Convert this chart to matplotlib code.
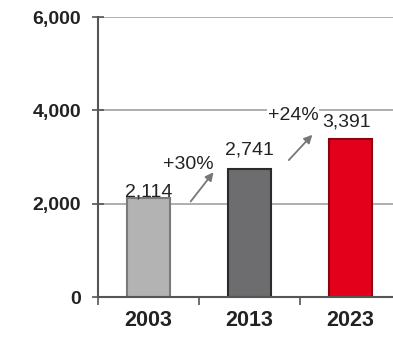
import matplotlib.pyplot as plt
from matplotlib.ticker import FuncFormatter

plt.rcParams['font.family'] = ['Liberation Sans', 'DejaVu Sans']

# data
years = ['2003', '2013', '2023']
values = [2114, 2741, 3391]
value_labels = ['2,114', '2,741', '3,391']
growth_labels = ['+30%', '+24%']
bar_colors = ['#b3b3b3', '#6d6d6f', '#e3001b']
edge_colors = ['#7a7a7a', '#2a2a2a', '#8a0010']

fig = plt.figure(figsize=(3.93, 3.41), dpi=100)
ax = fig.add_axes([98 / 393, 44 / 341, 1 - 98 / 393, 280 / 341])

x = range(len(years))
ax.bar(x, values, width=0.43, color=bar_colors, edgecolor=edge_colors,
       linewidth=1.5, zorder=3)

ax.set_xlim(-0.48, 2.42)
ax.set_ylim(0, 6000)
ax.set_yticks([0, 2000, 4000, 6000])
ax.yaxis.set_major_formatter(FuncFormatter(lambda v, p: f'{int(v):,}'))
ax.grid(axis='y', color='#999999', linewidth=1.1, zorder=0)

# x ticks: labels at centers, tick marks between categories
ax.set_xticks(list(x))
ax.set_xticklabels(years, fontsize=15.5, fontweight='bold', color='#222222')
ax.tick_params(axis='x', length=0, pad=9)
ax.set_xticks([-0.5, 0.5, 1.5], minor=True)
ax.tick_params(axis='x', which='minor', length=6, width=1.2, color='#555555',
               direction='out')
ax.tick_params(axis='y', length=8, width=1.2, color='#555555', direction='inout',
               labelsize=14, pad=8, labelcolor='#222222')
for lbl in ax.get_yticklabels():
    lbl.set_fontweight('bold')

for side in ['top', 'right']:
    ax.spines[side].set_visible(False)
ax.spines['left'].set_color('#555555')
ax.spines['left'].set_linewidth(1.5)
ax.spines['bottom'].set_color('#555555')
ax.spines['bottom'].set_linewidth(1.5)
ax.spines['bottom'].set_zorder(4)

# value labels
label_y = [2250, 3150, 3750]
label_x = [0, 1, 1.96]
for xi, yi, t in zip(label_x, label_y, value_labels):
    ax.text(xi, yi, t, ha='center', va='center', fontsize=14, color='#222222',
            zorder=5)

# growth arrows
arrows = [((0.40, 2000), (0.66, 2720)), ((1.37, 2890), (1.64, 3520))]
for (start, end) in arrows:
    ax.annotate('', xy=end, xytext=start,
                arrowprops=dict(arrowstyle='-|>', color='#777777', lw=1.3,
                                mutation_scale=12), zorder=5)
ax.text(0.39, 2830, growth_labels[0], ha='center', va='center', fontsize=14,
        color='#222222', zorder=5)
ax.text(1.43, 3880, growth_labels[1], ha='center', va='center', fontsize=14,
        color='#222222', zorder=5,
        bbox=dict(facecolor='white', edgecolor='none', pad=0.5))

fig.savefig('out.png', dpi=100)
